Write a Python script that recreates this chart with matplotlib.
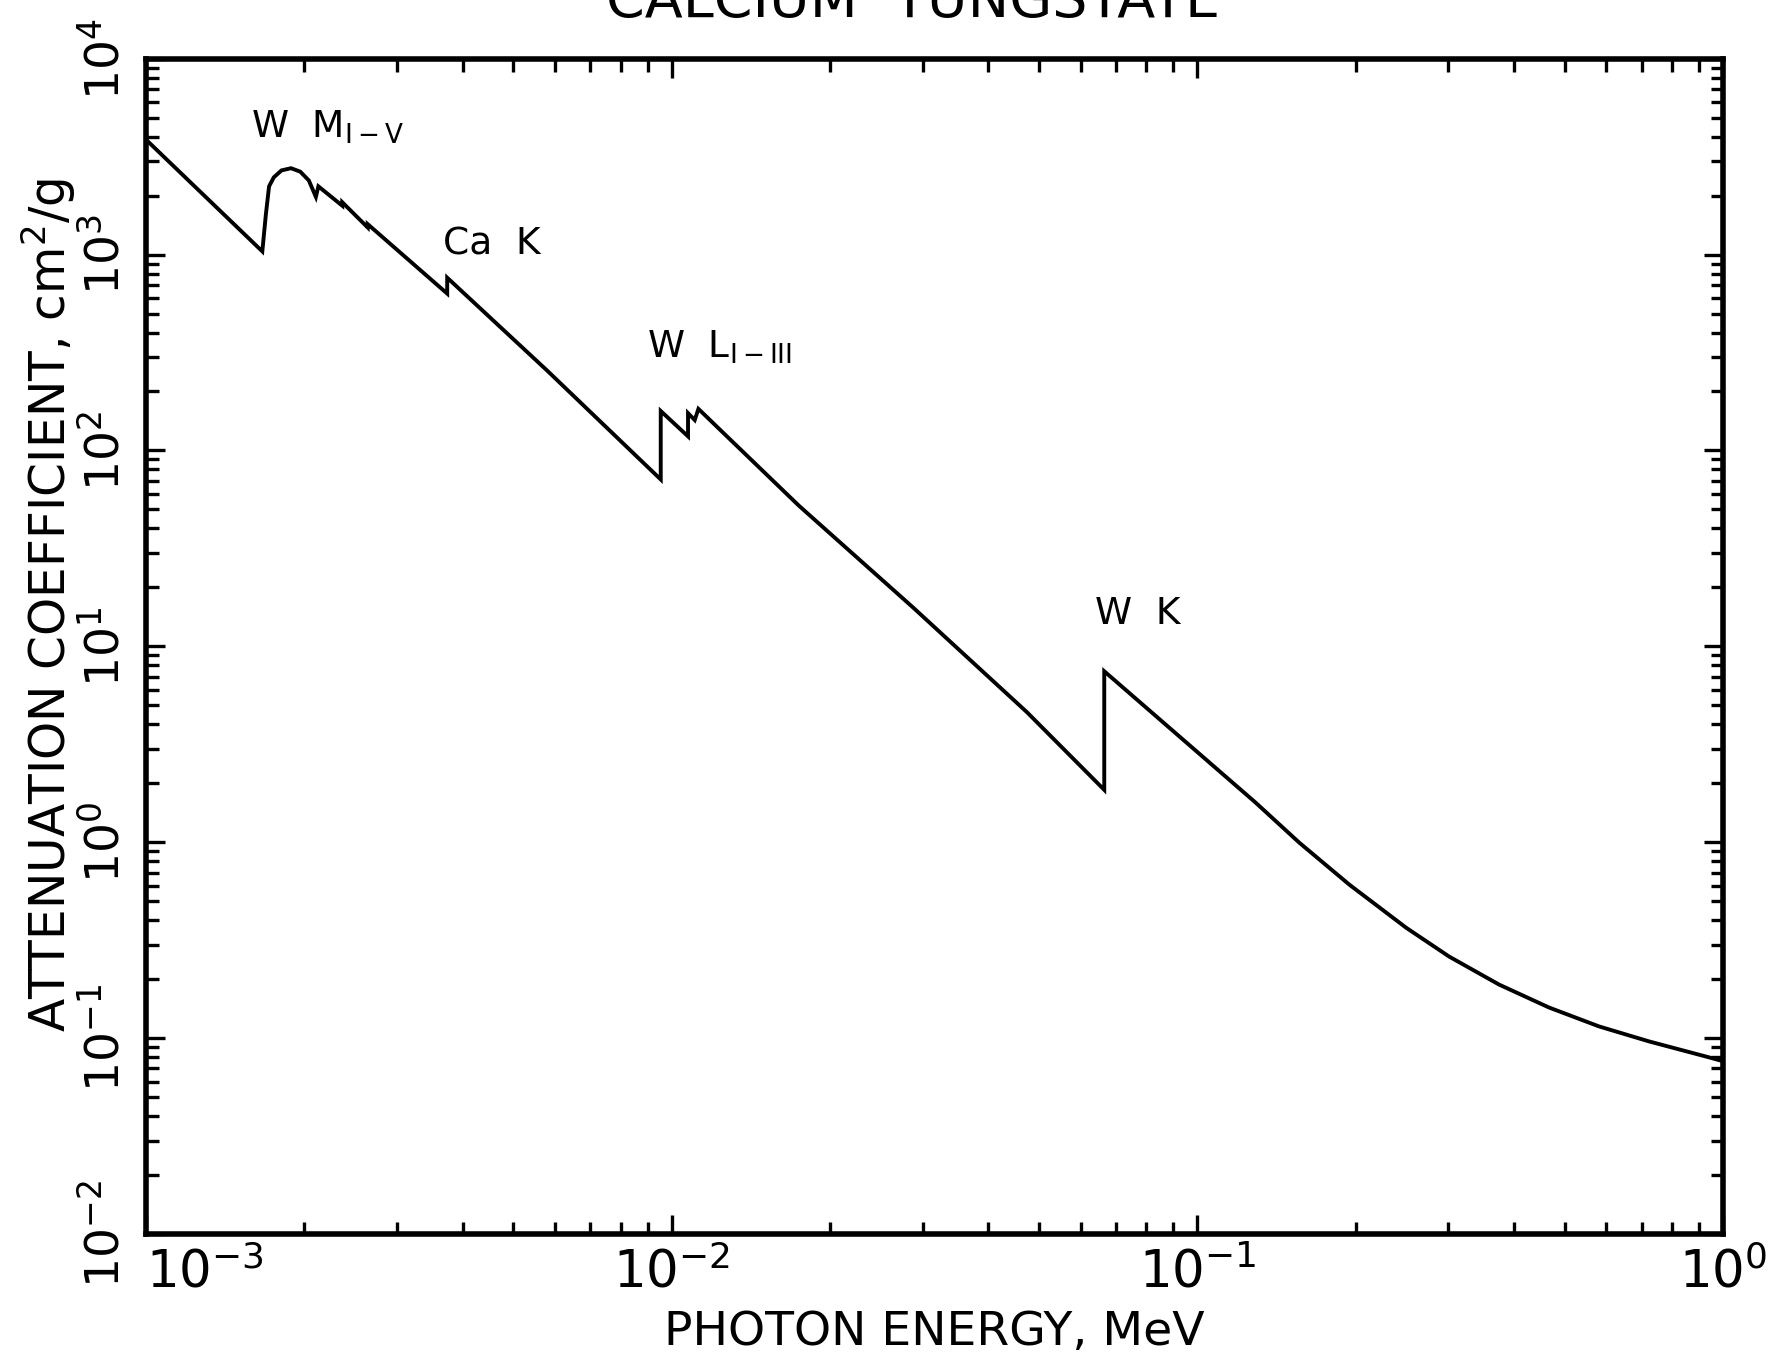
import matplotlib.pyplot as plt
import numpy as np
from matplotlib.ticker import LogLocator, NullFormatter, FixedLocator

plt.rcParams['font.family'] = ['DejaVu Sans']
plt.rcParams['mathtext.default'] = 'regular'

# photon energy (MeV) and mass attenuation coefficient (cm^2/g)
energy = [1.0e-3, 1.664e-3, 1.69e-3, 1.714e-3, 1.75e-3, 1.81e-3, 1.887e-3,
          1.965e-3, 2.04e-3, 2.104e-3, 2.127e-3, 2.362e-3, 2.362e-3,
          2.64e-3, 2.64e-3, 3.74e-3, 3.74e-3, 5.81e-3, 9.53e-3, 9.53e-3,
          0.01074, 0.01074, 0.01106, 0.01124, 0.01746, 0.02877, 0.0474,
          0.0665, 0.0665, 0.1288, 0.1563, 0.1946, 0.2495, 0.3013,
          0.375, 0.4667, 0.5808, 0.7228, 0.9408, 1.0]
mu = [3860, 1038, 1600, 2230, 2480, 2690, 2760,
      2650, 2390, 1970, 2230, 1776, 1850,
      1375, 1430, 632, 762, 254, 71.1, 159,
      118, 155, 143, 163, 52.2, 15.8, 4.61,
      1.85, 7.46, 1.60, 0.994, 0.607, 0.366, 0.2606,
      0.1875, 0.1432, 0.1147, 0.0962, 0.0797, 0.0762]

edge_labels = [r'W  M$_{I-V}$', 'Ca  K', r'W  L$_{I-III}$', 'W  K']
label_x = [2.213e-3, 4.55e-3, 0.0123, 0.0769]
label_y = [4480, 1125, 336, 14.6]

xtick_vals = [1e-3, 1e-2, 1e-1, 1e0]
xtick_labels = [r'$10^{-3}$', r'$10^{-2}$', r'$10^{-1}$', r'$10^{0}$']
ytick_vals = [1e-2, 1e-1, 1e0, 1e1, 1e2, 1e3, 1e4]
ytick_labels = [r'$10^{-2}$', r'$10^{-1}$', r'$10^{0}$', r'$10^{1}$',
                r'$10^{2}$', r'$10^{3}$', r'$10^{4}$']

fig = plt.figure(figsize=(17.9, 13.65), dpi=100)
ax = fig.add_axes([0.0816, 0.096, 0.881, 0.861])

ax.plot(energy, mu, color='black', linewidth=2.8, solid_joinstyle='miter')
ax.set_xscale('log')
ax.set_yscale('log')
ax.set_xlim(1e-3, 1e0)
ax.set_ylim(1e-2, 1e4)

for s in ax.spines.values():
    s.set_linewidth(4)

ax.xaxis.set_major_locator(FixedLocator(xtick_vals))
ax.yaxis.set_major_locator(FixedLocator(ytick_vals))
ax.xaxis.set_minor_locator(LogLocator(base=10, subs=np.arange(2, 10)))
ax.yaxis.set_minor_locator(LogLocator(base=10, subs=np.arange(2, 10)))
ax.xaxis.set_minor_formatter(NullFormatter())
ax.yaxis.set_minor_formatter(NullFormatter())
ax.set_xticklabels(xtick_labels, fontsize=37)
ax.set_yticklabels(ytick_labels, fontsize=34, rotation=90, va='center')
ax.xaxis.get_majorticklabels()[0].set_horizontalalignment('left')

ax.tick_params(which='both', direction='in', top=True, right=True, width=2.4)
ax.tick_params(which='major', length=14, pad=10)
ax.tick_params(axis='y', which='major', pad=12)
ax.tick_params(which='minor', length=9)

for txt, lx, ly in zip(edge_labels, label_x, label_y):
    ax.text(lx, ly, txt, fontsize=27, ha='center', va='center')

ax.set_xlabel('PHOTON ENERGY, MeV', fontsize=34, labelpad=8)
fig.text(0.027, 0.557, r'ATTENUATION COEFFICIENT, cm$^2$/g', fontsize=35,
         rotation=90, ha='center', va='center')
fig.text(0.51, 0.9875, 'CALCIUM  TUNGSTATE', fontsize=40, ha='center', va='baseline')

fig.savefig('out.png', dpi=100)
